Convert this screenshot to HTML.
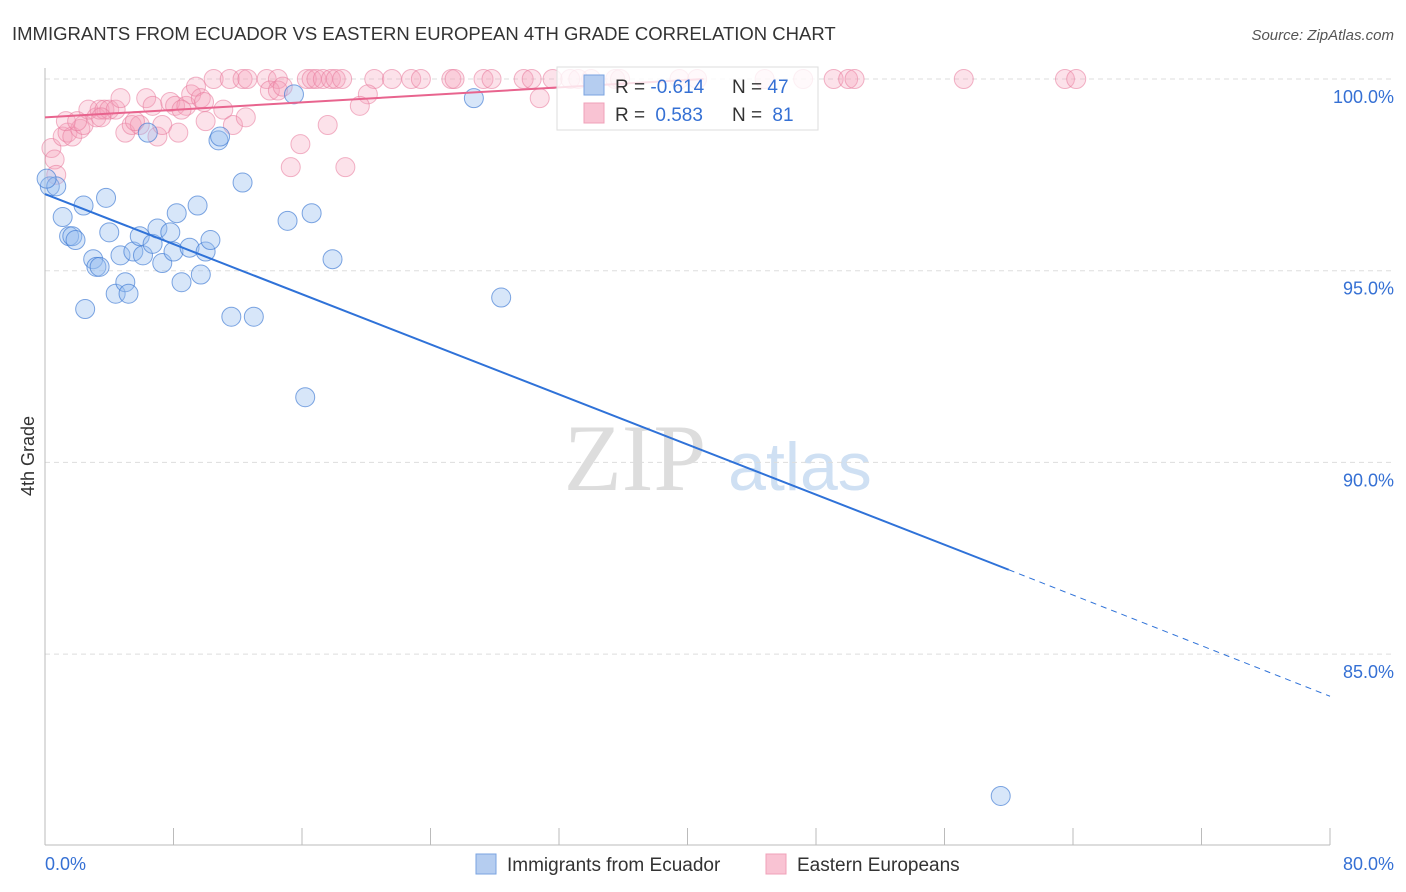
<!DOCTYPE html>
<html><head><meta charset="utf-8"><style>
body{margin:0;background:#fff;width:1406px;height:892px;overflow:hidden;font-family:"Liberation Sans",sans-serif}
svg{position:absolute;left:0;top:0}
</style></head><body>
<svg id="chart" width="1406" height="892">
<text x="12" y="40" font-size="18.5" fill="#333">IMMIGRANTS FROM ECUADOR VS EASTERN EUROPEAN 4TH GRADE CORRELATION CHART</text>
<text x="1394" y="40" font-size="15" fill="#555" font-style="italic" text-anchor="end">Source: ZipAtlas.com</text>
<text x="34" y="456" font-size="18" fill="#333" text-anchor="middle" transform="rotate(-90 34 456)">4th Grade</text>
<text x="635" y="490" font-size="95" fill="#ddd" font-family="Liberation Serif,serif" text-anchor="middle">ZIP</text>
<text x="800" y="490" font-size="68" fill="#cfe0f3" text-anchor="middle">atlas</text>
<g id="grid"></g><g id="pts"></g><g id="lines"></g>
<g>
<rect x="557" y="67" width="261" height="63" fill="#fff" fill-opacity="0.8" stroke="#ddd"/>
<rect x="584" y="75" width="20" height="20" fill="#b5cdf0" stroke="#7aa3e0"/>
<rect x="584" y="103" width="20" height="20" fill="#f9c3d3" stroke="#f0a0b8"/>
<text x="615" y="93" font-size="19" fill="#333">R = <tspan fill="#3570d4">-0.614</tspan></text>
<text x="732" y="93" font-size="19" fill="#333">N = <tspan fill="#3570d4">47</tspan></text>
<text x="615" y="121" font-size="19" fill="#333">R = <tspan fill="#3570d4" dx="5">0.583</tspan></text>
<text x="732" y="121" font-size="19" fill="#333">N = <tspan fill="#3570d4" dx="5">81</tspan></text>
</g>
<g>
<rect x="476" y="854" width="20" height="20" fill="#b5cdf0" stroke="#7aa3e0"/>
<text x="507" y="871" font-size="19" fill="#333">Immigrants from Ecuador</text>
<rect x="766" y="854" width="20" height="20" fill="#f9c3d3" stroke="#f0a0b8"/>
<text x="797" y="871" font-size="19" fill="#333">Eastern Europeans</text>
</g>
</svg>
<script>
const NS="http://www.w3.org/2000/svg";
const yTicks=[100,95,90,85];
const yTickLabels=["100.0%","95.0%","90.0%","85.0%"];
const xTickLabels=["0.0%","80.0%"];
const blueX=[0.3,0.7,1.1,1.5,1.7,1.9,2.4,2.5,3.0,3.2,3.4,3.8,4.0,4.4,4.7,5.0,5.2,5.5,5.9,6.1,6.4,6.7,7.0,7.3,7.8,8.0,8.2,8.5,9.0,9.5,9.7,10.0,10.3,10.8,10.9,11.6,12.3,13.0,15.1,15.5,16.2,16.6,17.9,26.7,28.4,59.5,0.1];
const blueY=[97.2,97.2,96.4,95.9,95.9,95.8,96.7,94.0,95.3,95.1,95.1,96.9,96.0,94.4,95.4,94.7,94.4,95.5,95.9,95.4,98.6,95.7,96.1,95.2,96.0,95.5,96.5,94.7,95.6,96.7,94.9,95.5,95.8,98.4,98.5,93.8,97.3,93.8,96.3,99.6,91.7,96.5,95.3,99.5,94.3,81.3,97.4];
const pinkX=[10.5,11.5,12.3,12.6,13.8,14.5,16.3,16.6,16.9,17.3,17.8,18.1,18.5,20.5,21.6,22.8,23.4,25.3,25.5,27.3,27.8,29.8,30.3,31.6,32.7,34.0,35.5,35.8,39.5,40.6,44.8,47.2,49.1,50.0,50.4,57.2,63.5,64.2,
0.4,0.6,0.7,1.1,1.4,1.7,2.2,2.4,2.7,3.2,3.4,3.7,4.0,4.4,4.7,5.0,5.4,5.9,6.3,6.7,7.0,7.3,7.8,8.1,8.3,8.8,9.1,9.4,9.7,10.0,11.1,11.7,12.5,14.0,14.5,15.3,15.9,17.6,18.7,20.1,30.8,33.2,1.3,2.0,3.5,5.6,8.5,9.9,14.8,19.6];
const pinkY=[100,100,100,100,100,100,100,100,100,100,100,100,100,100,100,100,100,100,100,100,100,100,100,100,100,100,100,100,100,100,100,100,100,100,100,100,100,100,
98.2,97.9,97.5,98.5,98.6,98.5,98.7,98.8,99.2,99.0,99.2,99.2,99.2,99.2,99.5,98.6,98.8,98.8,99.5,99.3,98.5,98.8,99.4,99.3,98.6,99.3,99.6,99.8,99.5,98.9,99.2,98.8,99.0,99.7,99.7,97.7,98.3,98.8,97.7,99.6,99.5,100,98.9,98.9,99.0,98.9,99.2,99.4,99.8,99.3];
const blueTrend=[[0,97.0],[60,87.2],[80,83.9]];
const pinkTrend=[[0,99.0],[41,100]];
const X=v=>45+v/80*1285, Y=v=>79+(100-v)*38.34;
function mk(t,a,p){const e=document.createElementNS(NS,t);for(const k in a)e.setAttribute(k,a[k]);(p||document.getElementById('chart')).appendChild(e);return e;}
const grid=document.getElementById('grid');
yTicks.forEach((v,i)=>{
 const l=mk('line',{x1:45,x2:1394,y1:Y(v),y2:Y(v),stroke:'#ddd','stroke-dasharray':'5,4'},grid);
 
 
 const t=mk('text',{x:1394,y:Y(v)+24,'font-size':18,fill:'#3570d4','text-anchor':'end'},grid);t.textContent=yTickLabels[i];
 
 
});
const ax=mk('line',{x1:45,x2:1330,y1:845,y2:845,stroke:'#bbb'},grid);


const ay=mk('line',{x1:45,x2:45,y1:68,y2:845,stroke:'#bbb'},grid);


for(let i=0;i<=10;i++){const tk=mk('line',{x1:X(i*8),x2:X(i*8),y1:828,y2:845,stroke:'#bbb'},grid);
 
 }
[[0,'start',45],[1,'end',1394]].forEach(([i,a,x])=>{const t=mk('text',{x:x,y:870,'font-size':18,fill:'#3570d4','text-anchor':a},grid);t.textContent=xTickLabels[i];
 
 });
const pts=document.getElementById('pts');
pinkX.forEach((v,i)=>{const c=mk('circle',{cx:X(v),cy:Y(pinkY[i]),r:9.5,fill:'rgba(244,160,185,0.3)',stroke:'rgba(232,120,155,0.55)','stroke-width':1},pts);
 
 });
blueX.forEach((v,i)=>{const c=mk('circle',{cx:X(v),cy:Y(blueY[i]),r:9.5,fill:'rgba(150,190,240,0.38)',stroke:'rgba(60,120,210,0.65)','stroke-width':1},pts);
 
 });
const lines=document.getElementById('lines');
const b1=mk('line',{x1:X(blueTrend[0][0]),y1:Y(blueTrend[0][1]),x2:X(blueTrend[1][0]),y2:Y(blueTrend[1][1]),stroke:'#2f72d8','stroke-width':2},lines);


const b2=mk('line',{x1:X(blueTrend[1][0]),y1:Y(blueTrend[1][1]),x2:X(blueTrend[2][0]),y2:Y(blueTrend[2][1]),stroke:'#2f72d8','stroke-width':1,'stroke-dasharray':'6,5'},lines);


const p1=mk('line',{x1:X(pinkTrend[0][0]),y1:Y(pinkTrend[0][1]),x2:X(pinkTrend[1][0]),y2:Y(pinkTrend[1][1]),stroke:'#e8648e','stroke-width':2},lines);


</script>
</body></html>
